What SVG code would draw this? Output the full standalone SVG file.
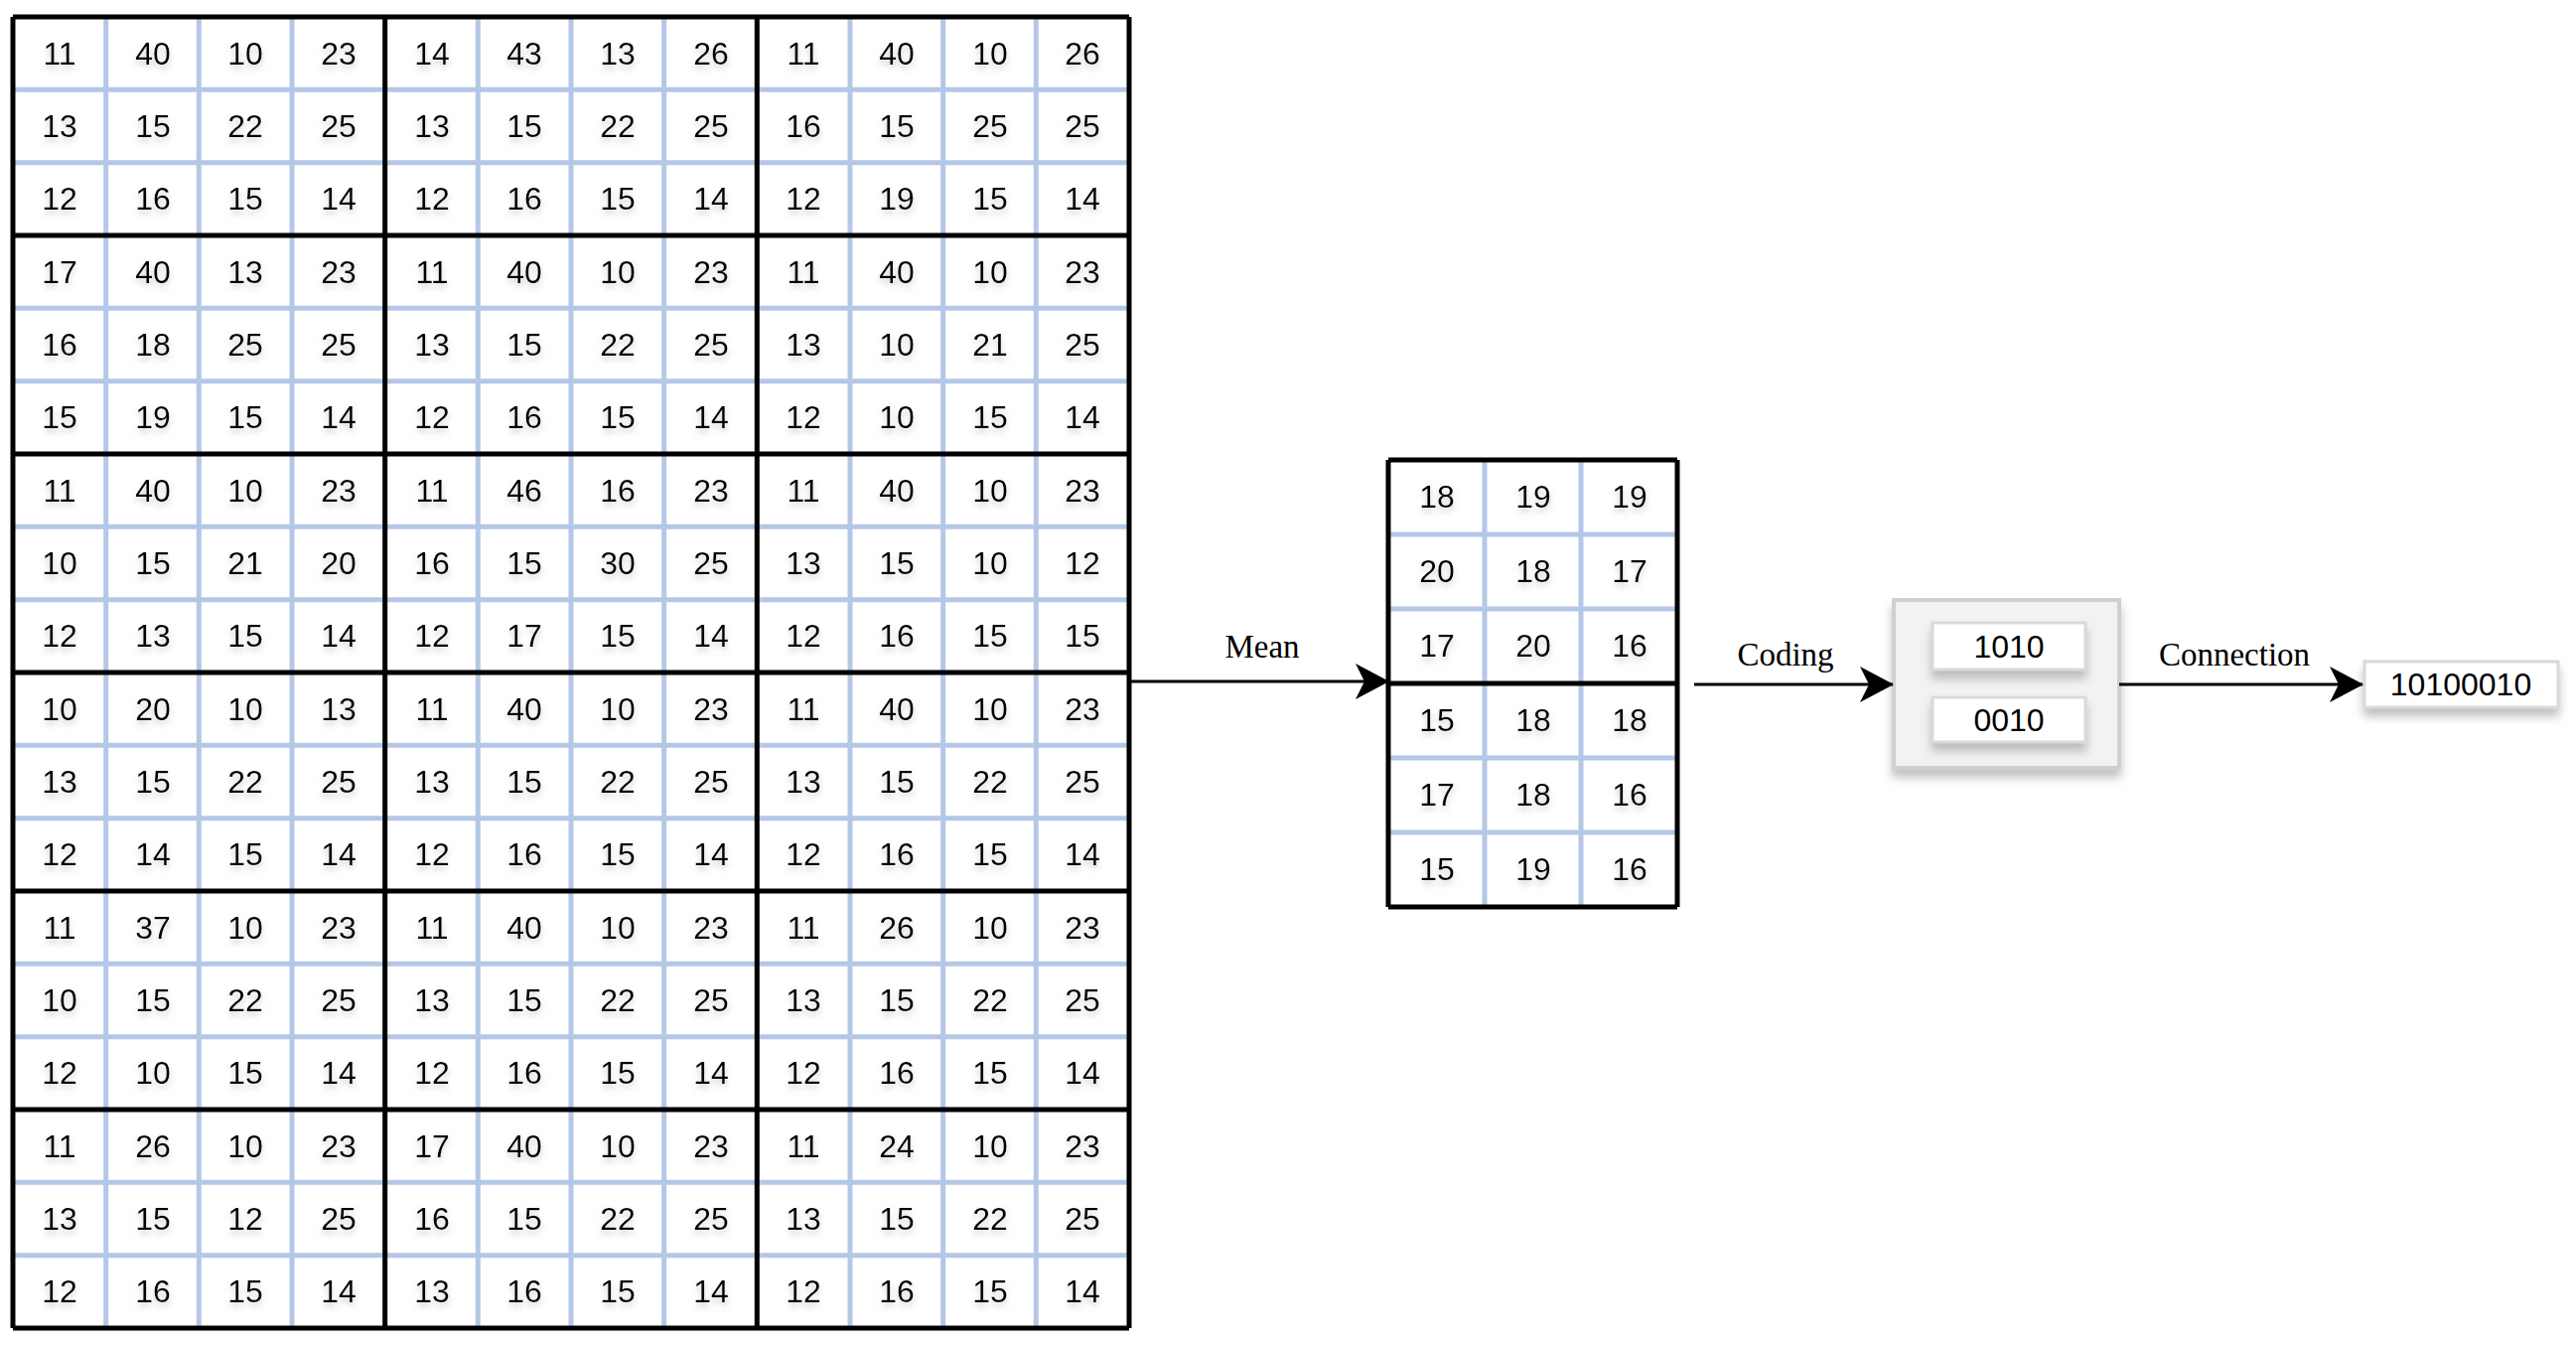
<svg xmlns="http://www.w3.org/2000/svg" width="2594" height="1354" viewBox="0 0 2594 1354">
<style>
.n{font-family:"Liberation Sans Narrow","Liberation Sans",Arial,sans-serif;font-size:32px;fill:#000;text-anchor:middle}
.lab{font-family:"Liberation Serif","Times New Roman",serif;font-size:33px;fill:#000;text-anchor:middle}
.bl{stroke:#b4c7e7;stroke-width:5;fill:none}
.bk{stroke:#000;stroke-width:5;fill:none}
.ar{stroke:#000;stroke-width:3;fill:none;marker-end:url(#ah)}
.bx{fill:#fff;stroke:#d9d9d9;stroke-width:3;filter:url(#sh)}
</style>
<defs>
<marker id="ah" markerWidth="34" markerHeight="36" refX="33" refY="18" orient="auto" markerUnits="userSpaceOnUse" viewBox="0 0 34 36"><path d="M0,0 L34,18 L0,36 L9,18 z" fill="#000"/></marker>
<filter id="sh" x="-20%" y="-20%" width="150%" height="160%"><feDropShadow dx="0" dy="8" stdDeviation="5" flood-color="#999" flood-opacity="0.6"/></filter>
<filter id="ts"><feDropShadow dx="0" dy="4" stdDeviation="3" flood-color="#aaa" flood-opacity="0.6"/></filter>
</defs>
<rect width="2594" height="1354" fill="#fff"/>
<g id="input-grid">
<rect x="13" y="17" width="1124" height="1320" fill="#fff"/>
<path class="bl" d="M106.7,17V1337M200.3,17V1337M294,17V1337M481.3,17V1337M575,17V1337M668.7,17V1337M856,17V1337M949.7,17V1337M1043.3,17V1337M13,90.3H1137M13,163.7H1137M13,310.3H1137M13,383.7H1137M13,530.3H1137M13,603.7H1137M13,750.3H1137M13,823.7H1137M13,970.3H1137M13,1043.7H1137M13,1190.3H1137M13,1263.7H1137"/>
<path class="bk" d="M13,17V1337M387.7,17V1337M762.3,17V1337M1137,17V1337M13,17H1137M13,237H1137M13,457H1137M13,677H1137M13,897H1137M13,1117H1137M13,1337H1137"/>
<g filter="url(#ts)">
<text class="n" y="65"><tspan x="60">11</tspan><tspan x="154">40</tspan><tspan x="247">10</tspan><tspan x="341">23</tspan><tspan x="435">14</tspan><tspan x="528">43</tspan><tspan x="622">13</tspan><tspan x="716">26</tspan><tspan x="809">11</tspan><tspan x="903">40</tspan><tspan x="997">10</tspan><tspan x="1090">26</tspan></text>
<text class="n" y="138"><tspan x="60">13</tspan><tspan x="154">15</tspan><tspan x="247">22</tspan><tspan x="341">25</tspan><tspan x="435">13</tspan><tspan x="528">15</tspan><tspan x="622">22</tspan><tspan x="716">25</tspan><tspan x="809">16</tspan><tspan x="903">15</tspan><tspan x="997">25</tspan><tspan x="1090">25</tspan></text>
<text class="n" y="211"><tspan x="60">12</tspan><tspan x="154">16</tspan><tspan x="247">15</tspan><tspan x="341">14</tspan><tspan x="435">12</tspan><tspan x="528">16</tspan><tspan x="622">15</tspan><tspan x="716">14</tspan><tspan x="809">12</tspan><tspan x="903">19</tspan><tspan x="997">15</tspan><tspan x="1090">14</tspan></text>
<text class="n" y="285"><tspan x="60">17</tspan><tspan x="154">40</tspan><tspan x="247">13</tspan><tspan x="341">23</tspan><tspan x="435">11</tspan><tspan x="528">40</tspan><tspan x="622">10</tspan><tspan x="716">23</tspan><tspan x="809">11</tspan><tspan x="903">40</tspan><tspan x="997">10</tspan><tspan x="1090">23</tspan></text>
<text class="n" y="358"><tspan x="60">16</tspan><tspan x="154">18</tspan><tspan x="247">25</tspan><tspan x="341">25</tspan><tspan x="435">13</tspan><tspan x="528">15</tspan><tspan x="622">22</tspan><tspan x="716">25</tspan><tspan x="809">13</tspan><tspan x="903">10</tspan><tspan x="997">21</tspan><tspan x="1090">25</tspan></text>
<text class="n" y="431"><tspan x="60">15</tspan><tspan x="154">19</tspan><tspan x="247">15</tspan><tspan x="341">14</tspan><tspan x="435">12</tspan><tspan x="528">16</tspan><tspan x="622">15</tspan><tspan x="716">14</tspan><tspan x="809">12</tspan><tspan x="903">10</tspan><tspan x="997">15</tspan><tspan x="1090">14</tspan></text>
<text class="n" y="505"><tspan x="60">11</tspan><tspan x="154">40</tspan><tspan x="247">10</tspan><tspan x="341">23</tspan><tspan x="435">11</tspan><tspan x="528">46</tspan><tspan x="622">16</tspan><tspan x="716">23</tspan><tspan x="809">11</tspan><tspan x="903">40</tspan><tspan x="997">10</tspan><tspan x="1090">23</tspan></text>
<text class="n" y="578"><tspan x="60">10</tspan><tspan x="154">15</tspan><tspan x="247">21</tspan><tspan x="341">20</tspan><tspan x="435">16</tspan><tspan x="528">15</tspan><tspan x="622">30</tspan><tspan x="716">25</tspan><tspan x="809">13</tspan><tspan x="903">15</tspan><tspan x="997">10</tspan><tspan x="1090">12</tspan></text>
<text class="n" y="651"><tspan x="60">12</tspan><tspan x="154">13</tspan><tspan x="247">15</tspan><tspan x="341">14</tspan><tspan x="435">12</tspan><tspan x="528">17</tspan><tspan x="622">15</tspan><tspan x="716">14</tspan><tspan x="809">12</tspan><tspan x="903">16</tspan><tspan x="997">15</tspan><tspan x="1090">15</tspan></text>
<text class="n" y="725"><tspan x="60">10</tspan><tspan x="154">20</tspan><tspan x="247">10</tspan><tspan x="341">13</tspan><tspan x="435">11</tspan><tspan x="528">40</tspan><tspan x="622">10</tspan><tspan x="716">23</tspan><tspan x="809">11</tspan><tspan x="903">40</tspan><tspan x="997">10</tspan><tspan x="1090">23</tspan></text>
<text class="n" y="798"><tspan x="60">13</tspan><tspan x="154">15</tspan><tspan x="247">22</tspan><tspan x="341">25</tspan><tspan x="435">13</tspan><tspan x="528">15</tspan><tspan x="622">22</tspan><tspan x="716">25</tspan><tspan x="809">13</tspan><tspan x="903">15</tspan><tspan x="997">22</tspan><tspan x="1090">25</tspan></text>
<text class="n" y="871"><tspan x="60">12</tspan><tspan x="154">14</tspan><tspan x="247">15</tspan><tspan x="341">14</tspan><tspan x="435">12</tspan><tspan x="528">16</tspan><tspan x="622">15</tspan><tspan x="716">14</tspan><tspan x="809">12</tspan><tspan x="903">16</tspan><tspan x="997">15</tspan><tspan x="1090">14</tspan></text>
<text class="n" y="945"><tspan x="60">11</tspan><tspan x="154">37</tspan><tspan x="247">10</tspan><tspan x="341">23</tspan><tspan x="435">11</tspan><tspan x="528">40</tspan><tspan x="622">10</tspan><tspan x="716">23</tspan><tspan x="809">11</tspan><tspan x="903">26</tspan><tspan x="997">10</tspan><tspan x="1090">23</tspan></text>
<text class="n" y="1018"><tspan x="60">10</tspan><tspan x="154">15</tspan><tspan x="247">22</tspan><tspan x="341">25</tspan><tspan x="435">13</tspan><tspan x="528">15</tspan><tspan x="622">22</tspan><tspan x="716">25</tspan><tspan x="809">13</tspan><tspan x="903">15</tspan><tspan x="997">22</tspan><tspan x="1090">25</tspan></text>
<text class="n" y="1091"><tspan x="60">12</tspan><tspan x="154">10</tspan><tspan x="247">15</tspan><tspan x="341">14</tspan><tspan x="435">12</tspan><tspan x="528">16</tspan><tspan x="622">15</tspan><tspan x="716">14</tspan><tspan x="809">12</tspan><tspan x="903">16</tspan><tspan x="997">15</tspan><tspan x="1090">14</tspan></text>
<text class="n" y="1165"><tspan x="60">11</tspan><tspan x="154">26</tspan><tspan x="247">10</tspan><tspan x="341">23</tspan><tspan x="435">17</tspan><tspan x="528">40</tspan><tspan x="622">10</tspan><tspan x="716">23</tspan><tspan x="809">11</tspan><tspan x="903">24</tspan><tspan x="997">10</tspan><tspan x="1090">23</tspan></text>
<text class="n" y="1238"><tspan x="60">13</tspan><tspan x="154">15</tspan><tspan x="247">12</tspan><tspan x="341">25</tspan><tspan x="435">16</tspan><tspan x="528">15</tspan><tspan x="622">22</tspan><tspan x="716">25</tspan><tspan x="809">13</tspan><tspan x="903">15</tspan><tspan x="997">22</tspan><tspan x="1090">25</tspan></text>
<text class="n" y="1311"><tspan x="60">12</tspan><tspan x="154">16</tspan><tspan x="247">15</tspan><tspan x="341">14</tspan><tspan x="435">13</tspan><tspan x="528">16</tspan><tspan x="622">15</tspan><tspan x="716">14</tspan><tspan x="809">12</tspan><tspan x="903">16</tspan><tspan x="997">15</tspan><tspan x="1090">14</tspan></text>
</g>
</g>
<g id="mean-grid">
<rect x="1398" y="463" width="291" height="450" fill="#fff"/>
<path class="bl" d="M1495,463V913M1592,463V913M1398,538H1689M1398,613H1689M1398,763H1689M1398,838H1689"/>
<path class="bk" d="M1398,463V913M1689,463V913M1398,463H1689M1398,688H1689M1398,913H1689"/>
<g filter="url(#ts)">
<text class="n" y="511"><tspan x="1447">18</tspan><tspan x="1544">19</tspan><tspan x="1641">19</tspan></text>
<text class="n" y="586"><tspan x="1447">20</tspan><tspan x="1544">18</tspan><tspan x="1641">17</tspan></text>
<text class="n" y="661"><tspan x="1447">17</tspan><tspan x="1544">20</tspan><tspan x="1641">16</tspan></text>
<text class="n" y="736"><tspan x="1447">15</tspan><tspan x="1544">18</tspan><tspan x="1641">18</tspan></text>
<text class="n" y="811"><tspan x="1447">17</tspan><tspan x="1544">18</tspan><tspan x="1641">16</tspan></text>
<text class="n" y="886"><tspan x="1447">15</tspan><tspan x="1544">19</tspan><tspan x="1641">16</tspan></text>
</g>
</g>
<g id="code-box">
<rect x="1907" y="604" width="227" height="169" fill="#f2f2f2" stroke="#d0d0d0" stroke-width="4" filter="url(#sh)"/>
<rect class="bx" x="1946" y="627" width="154" height="47"/>
<text class="n" x="2023" y="662">1010</text>
<rect class="bx" x="1946" y="702" width="154" height="45"/>
<text class="n" x="2023" y="736">0010</text>
</g>
<g id="output-box">
<rect class="bx" x="2381" y="666" width="195" height="46"/>
<text class="n" x="2478" y="700">10100010</text>
</g>
<g id="connectors">
<line class="ar" x1="1137" y1="686" x2="1398" y2="686"/>
<line class="ar" x1="1706" y1="689" x2="1906" y2="689"/>
<line class="ar" x1="2134" y1="689" x2="2379" y2="689"/>
<text class="lab" x="1271" y="662">Mean</text>
<text class="lab" x="1798" y="670">Coding</text>
<text class="lab" x="2250" y="670">Connection</text>
</g>
</svg>
